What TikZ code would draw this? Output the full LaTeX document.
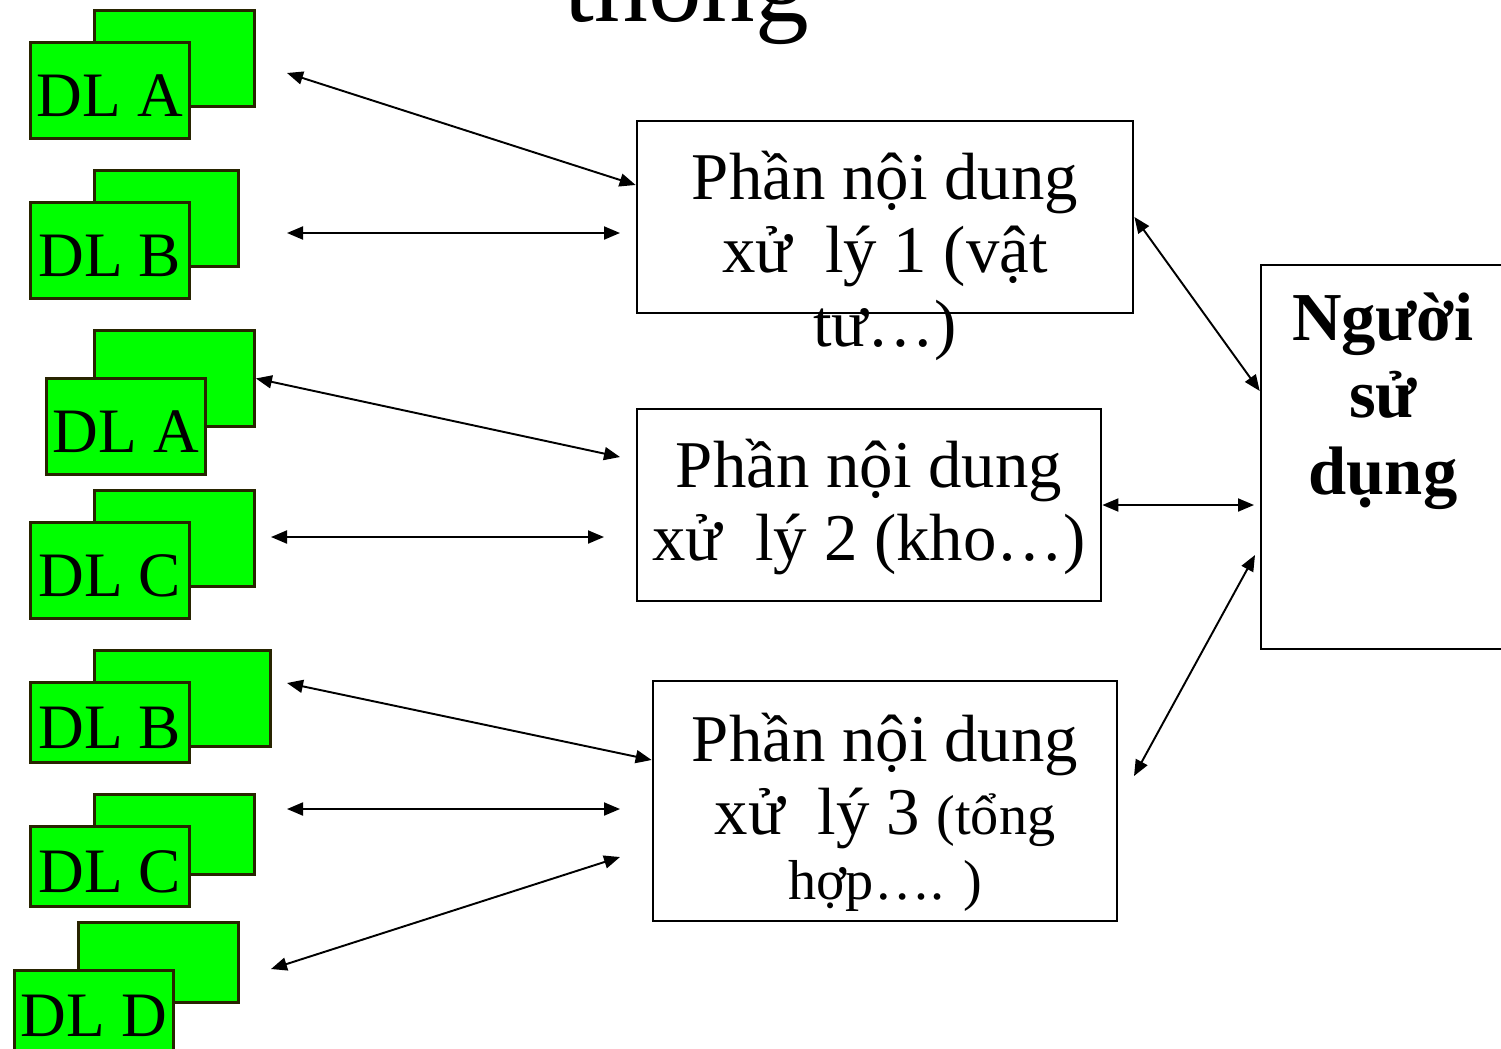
\documentclass[tikz,border=0pt]{standalone}
\usepackage{fontspec}
\setmainfont{Liberation Serif}
\usetikzlibrary{arrows.meta}
\definecolor{dlgreen}{RGB}{0,255,0}
\definecolor{dledge}{RGB}{40,36,0}
\begin{document}
\begin{tikzpicture}[x=0.01cm,y=-0.01cm,
  dlbox/.style={draw=dledge, fill=dlgreen, line width=0.8pt, anchor=north west,
    inner sep=0pt, font=\fontsize{18}{20}\selectfont, text height=0.52cm, text depth=0pt},
  pbox/.style={draw, line width=0.7pt, inner sep=0pt},
  ptext/.style={anchor=base, inner sep=0pt},
  dbl/.style={{Triangle[length=0.16cm,width=0.13cm]}-{Triangle[length=0.16cm,width=0.13cm]}, line width=0.55pt}]
\useasboundingbox (0,0) rectangle (1501,1048);

% title fragment at the top edge
\node[anchor=base, inner sep=0pt, font=\fontsize{30.5}{34}\selectfont] (title) at (687,21) {thống};

% data stores: back sheet, then front sheet with its label
\node[dlbox, minimum width=1.60cm, minimum height=0.96cm] (s1b) at (93,9) {};
\node[dlbox, minimum width=1.59cm, minimum height=0.96cm] (s1) at (29,41) {DL A};
\node[dlbox, minimum width=1.44cm, minimum height=0.96cm] (s2b) at (93,169) {};
\node[dlbox, minimum width=1.59cm, minimum height=0.96cm] (s2) at (29,201) {DL B};
\node[dlbox, minimum width=1.60cm, minimum height=0.96cm] (s3b) at (93,329) {};
\node[dlbox, minimum width=1.59cm, minimum height=0.96cm] (s3) at (45,377) {DL A};
\node[dlbox, minimum width=1.60cm, minimum height=0.96cm] (s4b) at (93,489) {};
\node[dlbox, minimum width=1.59cm, minimum height=0.96cm] (s4) at (29,521) {DL C};
\node[dlbox, minimum width=1.76cm, minimum height=0.96cm] (s5b) at (93,649) {};
\node[dlbox, minimum width=1.59cm, minimum height=0.80cm] (s5) at (29,681) {DL B};
\node[dlbox, minimum width=1.60cm, minimum height=0.80cm] (s6b) at (93,793) {};
\node[dlbox, minimum width=1.59cm, minimum height=0.80cm] (s6) at (29,825) {DL C};
\node[dlbox, minimum width=1.60cm, minimum height=0.80cm] (s7b) at (77,921) {};
\node[dlbox, minimum width=1.59cm, minimum height=0.80cm] (s7) at (13,969) {DL D};

% processing boxes
\node[pbox, minimum width=4.96cm, minimum height=1.92cm] (p1) at (885,217) {};
\node[pbox, minimum width=4.64cm, minimum height=1.92cm] (p2) at (869,505) {};
\node[pbox, minimum width=4.64cm, minimum height=2.40cm] (p3) at (885,801) {};
\node[ptext, font=\fontsize{19}{21}\selectfont] (p1t) at (885,199)
  {\begin{tabular}[t]{@{}c@{}}Phần nội dung\\xử\ \ lý 1 (vật\\tư…)\end{tabular}};
\node[ptext, font=\fontsize{19}{21}\selectfont] (p2t) at (869,487)
  {\begin{tabular}[t]{@{}c@{}}Phần nội dung\\xử\ \ lý 2 (kho…)\end{tabular}};
\node[ptext, font=\fontsize{19}{21}\selectfont] (p3t) at (885,761)
  {\begin{tabular}[t]{@{}c@{}}Phần nội dung\\xử\ \ lý 3 {\fontsize{16}{18}\selectfont(tổng}\\[-2.5pt]
   {\fontsize{16}{18}\selectfont hợp…. )}\end{tabular}};

% user box, running past the right edge
\node[pbox, minimum width=2.60cm, minimum height=3.84cm] (u) at (1391,457) {};
\node[ptext, font=\fontsize{19.5}{22}\selectfont\bfseries] (ut) at (1383,340)
  {\begin{tabular}[t]{@{}c@{}}Người\\sử\\dụng\end{tabular}};

% free ends of the connectors
\coordinate (e1) at (287,73);
\coordinate (e2) at (287,233);
\coordinate (f2) at (620,233);
\coordinate (f3) at (620,457);
\coordinate (e4) at (271,537);
\coordinate (f4) at (604,537);
\coordinate (e5) at (287,683);
\coordinate (e6) at (287,809);
\coordinate (f6) at (620,809);
\coordinate (e7) at (271,969);
\coordinate (f7) at (620,857);
\coordinate (g2) at (1254,505);
\coordinate (h3) at (1134,776);
\coordinate (g3) at (1255,555);

% connectors
\draw[dbl] (e1) -- ([yshift=0.32cm]p1.west);
\draw[dbl] (e2) -- (f2);
\draw[dbl] (s3b.east) -- (f3);
\draw[dbl] (e4) -- (f4);
\draw[dbl] (e5) -- ([yshift=0.41cm]p3.west);
\draw[dbl] (e6) -- (f6);
\draw[dbl] (e7) -- (f7);
\draw[dbl] (p1.east) -- ([yshift=0.66cm]u.west);
\draw[dbl] (p2.east) -- (g2);
\draw[dbl] (h3) -- (g3);
\end{tikzpicture}
\end{document}
